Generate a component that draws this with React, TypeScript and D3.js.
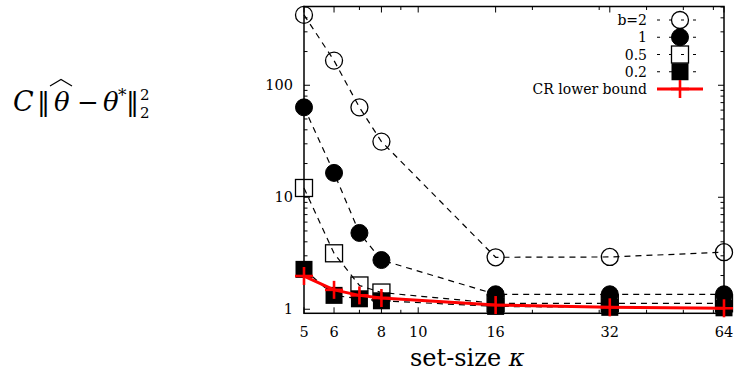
import React from "react";
import * as d3 from "d3";

// set sizes on the x axis
const kappa = [5, 6, 7, 8, 16, 32, 64];

// error curves for each b, plus the Cramér–Rao lower bound
const seriesB2 = [425, 166, 63.5, 31.4, 2.91, 2.93, 3.23];
const seriesB1 = [63.5, 16.5, 4.8, 2.75, 1.36, 1.36, 1.36];
const seriesB05 = [12.1, 3.16, 1.63, 1.41, 1.13, 1.13, 1.13];
const seriesB02 = [2.27, 1.33, 1.24, 1.19, 1.06, 1.04, 1.03];
const seriesCR = [1.98, 1.49, 1.33, 1.26, 1.09, 1.04, 1.02];

const seriesLabels = ["b=2", "1", "0.5", "0.2", "CR lower bound"];

const xTickLabels = [5, 6, 8, 10, 16, 32, 64];
const xMinorTicks = [7, 9, 20, 30, 40, 50, 60];
const yTickLabels = [1, 10, 100];

const W = 736;
const H = 375;
const left = 304;
const right = 724;
const top = 6.5;
const bottom = 313.3;

const FONT = '"DejaVu Serif", serif';
const serif = { fontFamily: FONT };

type Marker = "openCircle" | "filledCircle" | "openSquare" | "filledSquare" | "plus";

function MarkerShape({ kind, cx, cy }: { kind: Marker; cx: number; cy: number }) {
  const r = 8.5;
  switch (kind) {
    case "openCircle":
      return <circle cx={cx} cy={cy} r={r} fill="none" stroke="#000" strokeWidth={1.3} />;
    case "filledCircle":
      return <circle cx={cx} cy={cy} r={r} fill="#000" stroke="#000" strokeWidth={1} />;
    case "openSquare":
      return (
        <rect x={cx - r} y={cy - r} width={2 * r} height={2 * r} fill="none" stroke="#000" strokeWidth={1.3} />
      );
    case "filledSquare":
      return <rect x={cx - r} y={cy - r} width={2 * r} height={2 * r} fill="#000" />;
    case "plus":
      return (
        <g stroke="#ff0000" strokeWidth={2.6}>
          <line x1={cx - 9} x2={cx + 9} y1={cy} y2={cy} />
          <line x1={cx} x2={cx} y1={cy - 9} y2={cy + 9} />
        </g>
      );
  }
}

export default function App() {
  const x = d3.scaleLog().base(2).domain([5, 64]).range([left, right]);
  const y = d3.scaleLog().domain([0.92, 505]).range([bottom, top]);

  const series: { values: number[]; marker: Marker; red?: boolean }[] = [
    { values: seriesB2, marker: "openCircle" },
    { values: seriesB1, marker: "filledCircle" },
    { values: seriesB05, marker: "openSquare" },
    { values: seriesB02, marker: "filledSquare" },
    { values: seriesCR, marker: "plus", red: true },
  ];

  const line = d3
    .line<number>()
    .x((_, i) => x(kappa[i]))
    .y((v) => y(v));

  // minor ticks for the log y axis
  const yMinor: number[] = [];
  for (const dec of [1, 10, 100]) {
    for (let m = 2; m <= 9; m++) {
      const v = m * dec;
      if (v <= 505) yMinor.push(v);
    }
  }

  const legendRows = [20, 37.25, 54.5, 71.75, 89];
  const legendTextX = 647;
  const legendX1 = 657;
  const legendX2 = 703;
  const legendMid = 680;

  return (
    <svg width={W} height={H} style={{ position: "absolute", left: 0, top: 0, background: "#fff" }}>
      <rect width={W} height={H} fill="#fff" />

      {/* y-axis title */}
      <g style={serif} fill="#000">
        <text x={13} y={111} fontSize={27} fontStyle="italic">C</text>
        <text x={37} y={111} fontSize={26}>‖</text>
        <text x={54} y={111} fontSize={26} fontStyle="italic">θ</text>
        <path d="M50,86 L61,79.5 L72,86" fill="none" stroke="#000" strokeWidth={1.2} />
        <text x={77} y={111} fontSize={26}>−</text>
        <text x={103} y={111} fontSize={26} fontStyle="italic">θ</text>
        <text x={118} y={101} fontSize={17}>*</text>
        <text x={126} y={111} fontSize={26}>‖</text>
        <text x={140} y={100} fontSize={15}>2</text>
        <text x={140} y={118} fontSize={15}>2</text>
      </g>

      {/* frame */}
      <rect x={left} y={top} width={right - left} height={bottom - top} fill="none" stroke="#000" strokeWidth={1.5} />

      {/* x ticks (bottom and mirrored top), y ticks (left and mirrored right) */}
      <g stroke="#000" strokeWidth={1}>
        {xTickLabels.map((t) => (
          <g key={"xt" + t}>
            <line x1={x(t)} x2={x(t)} y1={bottom} y2={bottom - 6} />
            <line x1={x(t)} x2={x(t)} y1={top} y2={top + 6} />
          </g>
        ))}
        {xMinorTicks.map((t) => (
          <g key={"xm" + t}>
            <line x1={x(t)} x2={x(t)} y1={bottom} y2={bottom - 3.5} />
            <line x1={x(t)} x2={x(t)} y1={top} y2={top + 3.5} />
          </g>
        ))}
        {yTickLabels.map((t) => (
          <g key={"yt" + t}>
            <line x1={left} x2={left + 6} y1={y(t)} y2={y(t)} />
            <line x1={right} x2={right - 6} y1={y(t)} y2={y(t)} />
          </g>
        ))}
        {yMinor.map((t) => (
          <g key={"ym" + t}>
            <line x1={left} x2={left + 3.5} y1={y(t)} y2={y(t)} />
            <line x1={right} x2={right - 3.5} y1={y(t)} y2={y(t)} />
          </g>
        ))}
      </g>

      {/* tick labels */}
      <g style={serif} fontSize={14.5} fill="#000">
        {xTickLabels.map((t) => (
          <text key={"xl" + t} x={x(t)} y={337} textAnchor="middle">
            {t}
          </text>
        ))}
        {yTickLabels.map((t) => (
          <text key={"yl" + t} x={293} y={y(t) + 5} textAnchor="end">
            {t}
          </text>
        ))}
      </g>

      {/* x-axis title */}
      <text x={410} y={366} style={serif} fontSize={24} fill="#000">
        set-size <tspan fontStyle="italic">κ</tspan>
      </text>

      {/* series */}
      {series.map((s, si) => (
        <g key={"s" + si}>
          <path
            d={line(s.values) ?? ""}
            fill="none"
            stroke={s.red ? "#ff0000" : "#000"}
            strokeWidth={s.red ? 3 : 1.2}
            strokeDasharray={s.red ? undefined : "6,5"}
          />
          {s.values.map((v, i) => (
            <MarkerShape key={i} kind={s.marker} cx={x(kappa[i])} cy={y(v)} />
          ))}
        </g>
      ))}

      {/* legend */}
      <g style={serif} fontSize={14} fill="#000">
        {series.map((s, si) => (
          <g key={"lg" + si}>
            <text x={legendTextX} y={legendRows[si] + 5} textAnchor="end">
              {seriesLabels[si]}
            </text>
            <line
              x1={legendX1}
              x2={legendX2}
              y1={legendRows[si]}
              y2={legendRows[si]}
              stroke={s.red ? "#ff0000" : "#000"}
              strokeWidth={s.red ? 3 : 1.2}
              strokeDasharray={s.red ? undefined : "3,9"}
            />
            <MarkerShape kind={s.marker} cx={legendMid} cy={legendRows[si]} />
          </g>
        ))}
      </g>
    </svg>
  );
}
